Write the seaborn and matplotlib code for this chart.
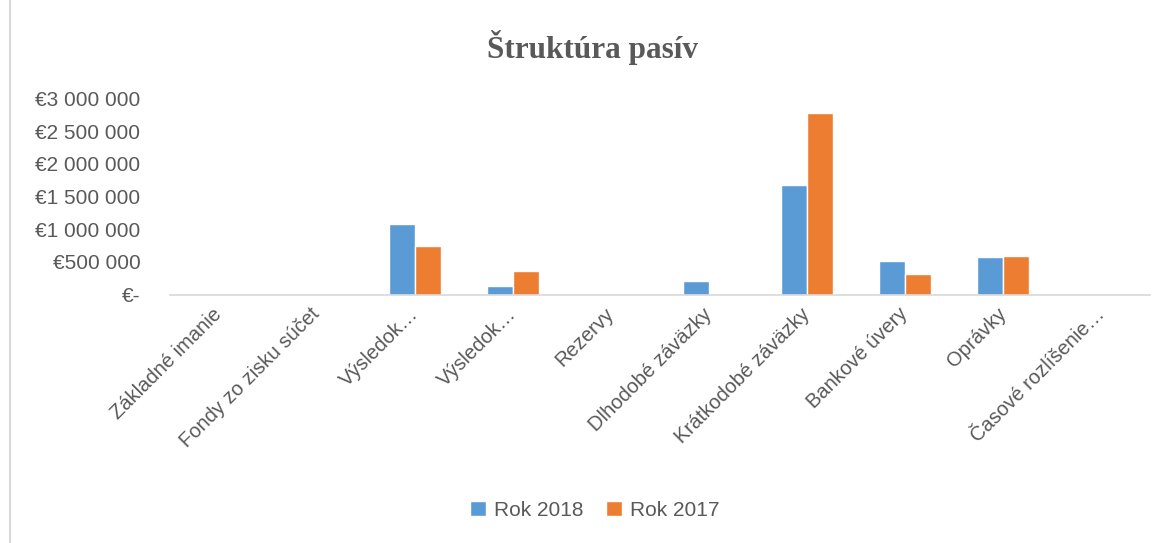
import pandas as pd
import matplotlib
matplotlib.use("Agg")
import matplotlib.pyplot as plt
import seaborn as sns
from matplotlib.ticker import FuncFormatter
from matplotlib.lines import Line2D

# Data
categories = [
    "Základné imanie", "Fondy zo zisku súčet", "Výsledok…", "Výsledok…",
    "Rezervy", "Dlhodobé záväzky", "Krátkodobé záväzky", "Bankové úvery",
    "Oprávky", "Časové rozlíšenie…",
]
rok_2018 = [5000, 0, 1080000, 130000, 3000, 207000, 1671000, 513000, 569000, 8000]
rok_2017 = [5000, 0, 742000, 355000, 0, 2000, 2783000, 318000, 589000, 0]
series = ["Rok 2018", "Rok 2017"]
y_ticks = [0, 500000, 1000000, 1500000, 2000000, 2500000, 3000000]

# Long form; categories get a unique key since two labels repeat
keys = [f"{i}" for i in range(len(categories))]
df = pd.DataFrame({
    "key": keys * 2,
    "value": rok_2018 + rok_2017,
    "series": [series[0]] * len(keys) + [series[1]] * len(keys),
})

sns.set_style("white")
plt.rcParams["font.family"] = ["Liberation Sans", "DejaVu Sans"]
text_gray = "#595959"

fig = plt.figure(figsize=(11.62, 5.43), dpi=100)
ax = fig.add_axes([0.146, 0.4576, 0.844, 0.3610])

sns.barplot(
    data=df, x="key", y="value", hue="series", order=keys,
    palette=["#5b9bd5", "#ed7d31"], width=0.53, saturation=1,
    ax=ax, legend=True,
)

ax.set_ylim(0, 3000000)
ax.set_xlim(-0.5, len(keys) - 0.5)
ax.set_yticks(y_ticks)


def euro(v, pos):
    if v == 0:
        return "€-"
    return "€" + f"{int(v):,}".replace(",", " ")


ax.yaxis.set_major_formatter(FuncFormatter(euro))
ax.set_xticks(range(len(keys)))
ax.set_xticklabels(categories, rotation=45, ha="right", va="center",
                   rotation_mode="anchor")
ax.tick_params(axis="x", length=0, pad=12, labelsize=14.5, colors=text_gray)
ax.tick_params(axis="y", length=0, pad=21, labelsize=15, colors=text_gray)
ax.set_xlabel("")
ax.set_ylabel("")
for s in ["top", "right", "left"]:
    ax.spines[s].set_visible(False)
ax.spines["bottom"].set_color("#d9d9d9")
ax.spines["bottom"].set_linewidth(1.2)

fig.text(0.51, 0.912, "Štruktúra pasív", ha="center", va="center",
         fontsize=22.5, fontweight="bold", color=text_gray,
         family=["Liberation Serif", "DejaVu Serif"])

handles, labels = ax.get_legend_handles_labels()
ax.legend_.remove()
fig.legend(handles, labels, loc="center", bbox_to_anchor=(0.512, 0.06),
           ncol=2, frameon=False, fontsize=15, labelcolor=text_gray,
           handlelength=0.75, handleheight=0.75, columnspacing=1.1,
           handletextpad=0.4)

# left edge of the chart area frame
fig.add_artist(Line2D([0.009, 0.009], [0, 1], transform=fig.transFigure,
                      color="#d9d9d9", linewidth=1.5))

fig.savefig("out.png", dpi=100)
